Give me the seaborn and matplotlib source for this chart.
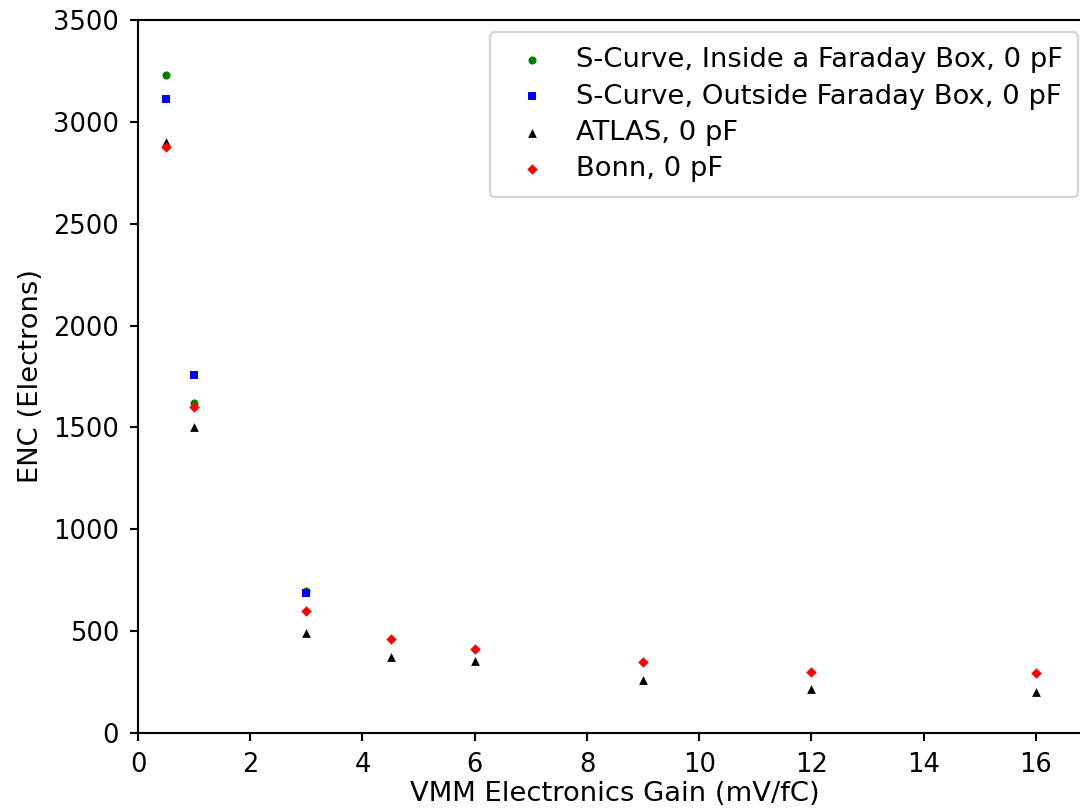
import matplotlib
matplotlib.use("Agg")
import matplotlib.pyplot as plt
import seaborn as sns
import pandas as pd

# Data
gain_scurve = [0.5, 1, 3]
enc_inside = [3230, 1620, 695]
enc_outside = [3110, 1755, 685]

gain_all = [0.5, 1, 3, 4.5, 6, 9, 12, 16]
enc_atlas = [2900, 1500, 492, 373, 354, 261, 216, 203]
enc_bonn = [2878, 1598, 600, 462, 413, 349, 301, 292]

labels = ["S-Curve, Inside a Faraday Box, 0 pF",
          "S-Curve, Outside Faraday Box, 0 pF",
          "ATLAS, 0 pF",
          "Bonn, 0 pF"]

sns.set_style("ticks")
plt.rcParams["font.family"] = ["DejaVu Sans"]
plt.rcParams["axes.edgecolor"] = "black"
plt.rcParams["axes.labelcolor"] = "black"
plt.rcParams["text.color"] = "black"
plt.rcParams["xtick.color"] = "black"
plt.rcParams["ytick.color"] = "black"

fig = plt.figure(figsize=(6.4, 4.8), dpi=168.75)
ax = fig.add_axes([138 / 1080, 1 - 732 / 809, (1092 - 138) / 1080, (732 - 20) / 809])

series = [
    (gain_scurve, enc_inside, "green", "o", 12, labels[0]),
    (gain_scurve, enc_outside, "blue", "s", 11, labels[1]),
    (gain_all, enc_atlas, "black", "^", 14, labels[2]),
    (gain_all, enc_bonn, "red", "D", 10, labels[3]),
]
for xs, ys, col, mk, s, lab in series:
    df = pd.DataFrame({"x": xs, "y": ys})
    sns.scatterplot(data=df, x="x", y="y", color=col, marker=mk, s=s,
                    linewidth=0, label=lab, ax=ax)

ax.set_xlim(0, 17)
ax.set_ylim(0, 3500)
ax.set_xticks(range(0, 17, 2))
ax.set_yticks(range(0, 3501, 500))
ax.set_xlabel("VMM Electronics Gain (mV/fC)", fontsize=11.7, color="black", labelpad=1.5)
ax.set_ylabel("ENC (Electrons)", fontsize=11.7, color="black")
ax.tick_params(labelsize=11, direction="out", length=3.5, width=0.9, pad=4.5,
               colors="black")
for sp in ax.spines.values():
    sp.set_linewidth(0.9)
    sp.set_visible(True)

leg = ax.legend(loc="upper right", fontsize=11.7, frameon=True,
                bbox_to_anchor=(1078 / 1080, 1 - 32 / 809), bbox_transform=fig.transFigure,
                borderaxespad=0.0, labelspacing=0.38, borderpad=0.55,
                handletextpad=0.6)
leg.get_frame().set_edgecolor("#cccccc")
for t in leg.get_texts():
    t.set_color("black")

fig.savefig("out.png", dpi=168.75)
